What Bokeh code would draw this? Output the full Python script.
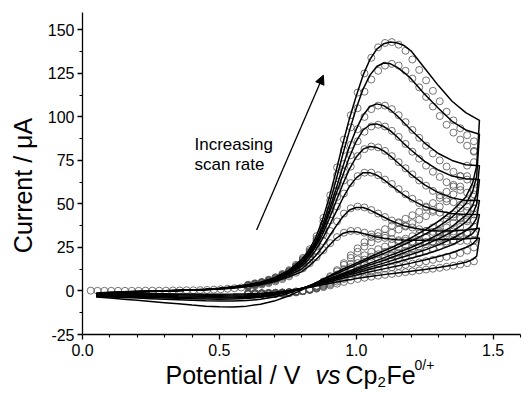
import math
from bokeh.plotting import figure
from bokeh.models import Range1d, FixedTicker, PrintfTickFormatter, Label, Arrow, NormalHead
from bokeh.embed import file_html
from bokeh.resources import INLINE

# ---------------- data ----------------
# simulated forward sweep potentials (V)
e_sim_fwd = [0.05, 0.10, 0.15, 0.20, 0.25, 0.30, 0.35, 0.40, 0.45, 0.50, 0.55, 0.60, 0.65, 0.70, 0.75,
             0.80, 0.825, 0.85, 0.875, 0.90, 0.925, 0.95, 0.975, 1.00, 1.025, 1.05, 1.075, 1.10, 1.125,
             1.15, 1.175, 1.20, 1.25, 1.30, 1.35, 1.40, 1.45]
# simulated reverse sweep potentials (V)
e_sim_rev = [1.45, 1.44, 1.425, 1.40, 1.35, 1.30, 1.25, 1.20, 1.15, 1.10, 1.05, 1.00, 0.95, 0.90, 0.85,
             0.80, 0.75, 0.70, 0.65, 0.60, 0.55, 0.50, 0.45, 0.40, 0.35, 0.30, 0.25, 0.20, 0.15, 0.10, 0.05]

sim_fwd_1 = [-2.5, -1.5, -1, -0.6, -0.3, 0, 0.3, 0.6, 1, 1.6, 2.4, 3.5, 5, 7.5, 11.5,
             18, 23, 30, 40, 53, 68, 84, 99, 112, 124, 133, 139, 142, 143, 142.5, 141, 138, 128, 118, 109, 102.5, 98]
sim_fwd_2 = [-2.3, -1.4, -0.9, -0.5, -0.2, 0, 0.3, 0.6, 1, 1.5, 2.3, 3.4, 4.9, 7.3, 11.2,
             17, 22, 28, 37, 49, 63, 78, 92, 105, 116, 124, 129, 131, 130.5, 128.5, 125.5, 122, 113, 105, 97.5, 92.5, 90]
sim_fwd_3 = [-2.1, -1.3, -0.8, -0.5, -0.2, 0, 0.3, 0.6, 0.9, 1.5, 2.2, 3.3, 4.8, 7.1, 10.8,
             16, 21, 27, 35, 46, 58, 71, 83, 93, 101, 106, 107.5, 106.5, 104, 100.5, 96.5, 92.5, 85, 79, 75, 72.5, 72]
sim_fwd_4 = [-2, -1.2, -0.8, -0.4, -0.2, 0.1, 0.3, 0.6, 0.9, 1.4, 2.2, 3.2, 4.7, 7, 10.5,
             15.5, 20, 26, 34, 44, 55, 66, 77, 86, 92.5, 95.5, 96, 94.5, 92, 88.5, 84.5, 81, 74.5, 69.5, 66, 64.5, 64]
sim_fwd_5 = [-1.8, -1.1, -0.7, -0.4, -0.1, 0.1, 0.3, 0.5, 0.9, 1.4, 2.1, 3.1, 4.5, 6.7, 10.2,
             15, 19.5, 25, 32, 41, 51, 61, 70, 77, 81.5, 83, 82.5, 80.5, 77.5, 74, 70.5, 67, 61, 56.5, 53.5, 52, 52]
sim_fwd_6 = [-1.6, -1, -0.6, -0.3, -0.1, 0.1, 0.3, 0.5, 0.8, 1.3, 2, 2.9, 4.3, 6.4, 9.6,
             14, 18, 23, 29.5, 37, 45, 53, 60, 65, 68, 68, 66.5, 64, 61, 58, 55, 52.5, 48.5, 46, 44.5, 44, 44]
sim_fwd_7 = [-1.4, -0.9, -0.5, -0.3, -0.1, 0.1, 0.3, 0.5, 0.8, 1.2, 1.8, 2.7, 4, 5.9, 8.8,
             12.5, 16, 20, 25, 31, 37, 42.5, 46.5, 48, 48, 46.5, 44.5, 42.5, 40.5, 39, 37.5, 36.5, 35, 34.5, 34.5, 35, 36]
sim_fwd_8 = [-1.2, -0.7, -0.4, -0.2, 0, 0.1, 0.3, 0.5, 0.7, 1.1, 1.6, 2.4, 3.6, 5.3, 7.9,
             11, 14, 17.5, 21.5, 26, 30, 33, 34.2, 34, 33, 32, 31, 30.3, 29.8, 29.5, 29.3, 29.2, 29.2, 29.4, 29.7, 30, 30.5]

sim_rev_1 = [98, 72, 62, 54, 46, 40, 35, 30.5, 26.5, 23, 19.5, 16, 12.5, 8.5, 4.5, 0.5, -3, -5.8, -7.6, -8.7,
             -9.2, -9.1, -8.7, -8.1, -7.4, -6.7, -6, -5.3, -4.7, -4.1, -3.5]
sim_rev_2 = [90, 66, 57, 50, 42.5, 37, 32.5, 28.5, 25, 21.5, 18.5, 15, 11.5, 8, 4.5, 1.2, -1.5, -3.5, -4.8, -5.5,
             -5.8, -5.8, -5.6, -5.3, -5, -4.7, -4.4, -4.1, -3.8, -3.5, -3.2]
sim_rev_3 = [72, 56, 49, 43.5, 37, 32.5, 28.5, 25, 22, 19, 16, 13, 10, 7, 4, 1.5, -0.8, -2.5, -3.6, -4.3,
             -4.6, -4.7, -4.6, -4.4, -4.2, -4, -3.8, -3.6, -3.4, -3.2, -3]
sim_rev_4 = [64, 50, 44, 39.5, 34, 30, 26.5, 23.5, 20.5, 17.5, 15, 12.2, 9.5, 6.6, 3.8, 1.4, -0.6, -2.1, -3.1, -3.7,
             -4, -4.1, -4, -3.9, -3.7, -3.5, -3.3, -3.1, -2.9, -2.7, -2.5]
sim_rev_5 = [52, 42, 38, 34.5, 30, 26.5, 23.5, 21, 18.5, 16, 13.7, 11.3, 8.8, 6.2, 3.6, 1.4, -0.4, -1.8, -2.7, -3.2,
             -3.5, -3.6, -3.5, -3.4, -3.3, -3.1, -2.9, -2.7, -2.5, -2.3, -2.1]
sim_rev_6 = [44, 36, 33, 30.5, 26.5, 23.5, 21, 18.8, 16.7, 14.6, 12.5, 10.3, 8.1, 5.8, 3.4, 1.4, -0.2, -1.4, -2.2, -2.7,
             -2.9, -3, -3, -2.9, -2.8, -2.6, -2.5, -2.3, -2.1, -2, -1.8]
sim_rev_7 = [36, 29.5, 27, 25, 22, 19.8, 17.8, 16, 14.4, 12.7, 11, 9.2, 7.3, 5.2, 3.1, 1.3, 0, -1, -1.7, -2.1,
             -2.3, -2.4, -2.4, -2.3, -2.2, -2.1, -2, -1.9, -1.7, -1.6, -1.5]
sim_rev_8 = [30.5, 20, 18, 16.5, 14.8, 13.5, 12.4, 11.4, 10.4, 9.4, 8.3, 7.1, 5.8, 4.3, 2.7, 1.2, 0.1, -0.7, -1.3, -1.6,
             -1.8, -1.9, -1.9, -1.8, -1.7, -1.6, -1.5, -1.4, -1.3, -1.2, -1.1]

# experimental points: common start of all sweeps (they overlap)
e_exp_base = [0.03, 0.055, 0.08, 0.105, 0.13, 0.155, 0.18, 0.205, 0.23, 0.255, 0.28, 0.305, 0.33, 0.355,
              0.38, 0.405, 0.43, 0.455, 0.48, 0.505, 0.53, 0.555, 0.58]
i_exp_base = [0.2, 0.1, 0.1, 0.1, 0.1, 0.1, 0.1, 0.1, 0.2, 0.2, 0.2, 0.2, 0.3, 0.3, 0.4, 0.4, 0.5, 0.6, 0.8,
              1.0, 1.3, 1.6, 2.0]
# experimental potentials for the curve-specific part of the sweeps
e_exp = [0.605, 0.63, 0.655, 0.68, 0.705, 0.73, 0.755, 0.78, 0.805, 0.83, 0.855, 0.88, 0.905, 0.93, 0.955,
         0.98, 1.005, 1.03, 1.055, 1.08, 1.105, 1.13, 1.155, 1.18, 1.205, 1.23, 1.255, 1.28, 1.305, 1.33,
         1.355, 1.38, 1.405, 1.43]

exp_fwd_1 = [3.6, 4.4, 5.2, 6.5, 7.9, 9.8, 12, 15, 19, 24, 31.5, 42, 55, 71, 87, 101, 114, 125, 134, 140,
             142.5, 143, 141.5, 138, 133, 127, 121, 115, 109, 103, 98, 93.5, 89.5, 86]
exp_fwd_2 = [3.4, 4.2, 5, 6.2, 7.6, 9.4, 11.5, 14.4, 18.3, 23, 30, 40, 52, 66.5, 81, 94, 105, 114.5, 121.5,
             126.5, 129.5, 130.5, 129.5, 126.5, 122, 117, 111.5, 106, 100.5, 95.5, 91, 87, 83.5, 80.5]
exp_fwd_3 = [3.3, 4.1, 4.9, 6, 7.4, 9.1, 11.2, 14, 17.7, 22.3, 29, 38, 49, 61, 73, 84, 93, 100, 104.5, 106.5,
             106.5, 104.5, 101, 97, 92.5, 88, 83.5, 79, 75, 71.5, 68.5, 66, 64, 62.5]
exp_fwd_4 = [3.2, 4, 4.8, 5.9, 7.2, 8.9, 11, 13.7, 17.3, 21.8, 28, 36.5, 46.5, 57.5, 68.5, 78, 86, 91.5, 94.5,
             95.5, 94.5, 92, 88.5, 84.5, 80, 76, 72, 68.5, 65.5, 62.5, 60, 58, 56.5, 55.5]
exp_fwd_5 = [3.1, 3.9, 4.7, 5.7, 7, 8.6, 10.6, 13.2, 16.7, 21, 27, 35, 44, 54, 63.5, 71.5, 77.5, 81.5, 83,
             82.5, 80.5, 77.5, 74, 70.5, 67, 63.5, 60.5, 57.5, 55, 53, 51, 49.5, 48.5, 47.5]
exp_fwd_6 = [2.9, 3.7, 4.5, 5.4, 6.6, 8.1, 10, 12.5, 15.8, 19.8, 25.5, 32.5, 40.5, 48.5, 56, 62, 66, 68, 68,
             66.5, 64, 61.5, 58.5, 55.5, 53, 50.5, 48.5, 46.5, 45, 43.5, 42.5, 41.5, 41, 40.5]
exp_fwd_7 = [2.7, 3.4, 4.1, 5, 6.1, 7.5, 9.3, 11.6, 14.5, 18.1, 23, 28.5, 34.5, 40, 44.5, 47.5, 48.5, 48,
             46.5, 44.5, 42.5, 40.5, 39, 37.5, 36.5, 35.5, 34.5, 34, 33.5, 33.2, 33, 33, 33, 33]
exp_fwd_8 = [2.4, 3, 3.7, 4.5, 5.5, 6.8, 8.4, 10.5, 13, 16, 19.5, 23.5, 27.5, 31, 33.5, 34.5, 34.5, 33.5,
             32.5, 31.5, 30.5, 29.8, 29.2, 28.8, 28.5, 28.3, 28.2, 28.2, 28.3, 28.4, 28.5, 28.7, 28.9, 29]

# reverse experimental sweeps, listed from 1.43 V back to 0.605 V
exp_rev_1 = [80, 72, 66, 61, 57, 53.5, 50.5, 48, 45.5, 43.5, 41.5, 39.5, 37.5, 35.5, 33.5, 31, 28, 24.5,
             20.5, 16, 12, 8.5, 5.5, 3, 1.2, 0, -0.8, -1.3, -1.6, -1.8, -1.9, -2, -2, -2]
exp_rev_2 = [74, 66, 60, 55.5, 51.5, 48.5, 45.5, 43, 41, 39, 37, 35.3, 33.5, 31.8, 30, 28, 25.5, 22.5, 19,
             15, 11.3, 8, 5.2, 2.9, 1.1, 0, -0.7, -1.2, -1.5, -1.7, -1.8, -1.9, -1.9, -1.9]
exp_rev_3 = [58, 52, 47.5, 44, 41, 38.5, 36.5, 34.5, 33, 31.5, 30, 28.5, 27, 25.5, 24, 22.5, 20.5, 18.2,
             15.5, 12.5, 9.5, 6.8, 4.5, 2.5, 1, 0, -0.6, -1, -1.3, -1.5, -1.6, -1.7, -1.7, -1.7]
exp_rev_4 = [51, 46, 42, 39, 36.5, 34.3, 32.4, 30.7, 29.2, 27.8, 26.4, 25.1, 23.8, 22.5, 21.1, 19.7, 18, 16,
             13.7, 11.1, 8.5, 6.1, 4.1, 2.3, 0.9, 0, -0.5, -0.9, -1.2, -1.4, -1.5, -1.6, -1.6, -1.6]
exp_rev_5 = [44, 40, 36.8, 34.2, 32, 30.1, 28.4, 26.9, 25.5, 24.2, 23, 21.8, 20.6, 19.4, 18.2, 16.9, 15.4,
             13.7, 11.8, 9.6, 7.4, 5.3, 3.6, 2, 0.8, 0, -0.5, -0.8, -1.1, -1.3, -1.4, -1.5, -1.5, -1.5]
exp_rev_6 = [37, 33.7, 31.2, 29.1, 27.3, 25.7, 24.3, 23, 21.8, 20.7, 19.6, 18.6, 17.6, 16.6, 15.5, 14.4,
             13.1, 11.7, 10.1, 8.3, 6.4, 4.6, 3.1, 1.8, 0.7, 0, -0.4, -0.7, -1, -1.2, -1.3, -1.4, -1.4, -1.4]
exp_rev_7 = [25, 23.2, 21.8, 20.6, 19.6, 18.7, 17.9, 17.1, 16.4, 15.7, 15, 14.3, 13.6, 12.9, 12.1, 11.3,
             10.4, 9.4, 8.2, 6.9, 5.4, 3.9, 2.7, 1.6, 0.7, 0, -0.4, -0.7, -0.9, -1.1, -1.2, -1.3, -1.3, -1.3]
exp_rev_8 = [17, 16, 15.2, 14.5, 13.9, 13.3, 12.8, 12.3, 11.8, 11.3, 10.8, 10.3, 9.8, 9.3, 8.8, 8.2, 7.6,
             6.9, 6.1, 5.2, 4.2, 3.2, 2.2, 1.3, 0.6, 0, -0.3, -0.6, -0.8, -1, -1.1, -1.2, -1.2, -1.2]

sim_fwd = [sim_fwd_1, sim_fwd_2, sim_fwd_3, sim_fwd_4, sim_fwd_5, sim_fwd_6, sim_fwd_7, sim_fwd_8]
sim_rev = [sim_rev_1, sim_rev_2, sim_rev_3, sim_rev_4, sim_rev_5, sim_rev_6, sim_rev_7, sim_rev_8]
exp_fwd = [exp_fwd_1, exp_fwd_2, exp_fwd_3, exp_fwd_4, exp_fwd_5, exp_fwd_6, exp_fwd_7, exp_fwd_8]
exp_rev = [exp_rev_1, exp_rev_2, exp_rev_3, exp_rev_4, exp_rev_5, exp_rev_6, exp_rev_7, exp_rev_8]

x_ticks = [0.0, 0.5, 1.0, 1.5]
x_minor = [0.1, 0.2, 0.3, 0.4, 0.6, 0.7, 0.8, 0.9, 1.1, 1.2, 1.3, 1.4, 1.6]
y_ticks = [-25, 0, 25, 50, 75, 100, 125, 150]
y_minor = [-12.5, 12.5, 37.5, 62.5, 87.5, 112.5, 137.5]
y_tick_text = {-25: "-25", 0: "0", 25: "25", 50: "50", 75: "75", 100: "100", 125: "125", 150: "150"}
x_lim = (0.0, 1.6)
y_lim = (-25, 160)

FONT = "Liberation Sans"
W, H = 522, 393
# where the axes box sits in the picture (pixels from top-left)
BOX_L, BOX_R, BOX_T, BOX_B = 82, 520, 12, 334
SX = (BOX_R - BOX_L) / (x_lim[1] - x_lim[0])
SY = (BOX_B - BOX_T) / (y_lim[1] - y_lim[0])
x_start = x_lim[0] - BOX_L / SX
x_end = x_lim[1] + (W - BOX_R) / SX
y_end = y_lim[1] + BOX_T / SY
y_start = y_lim[0] - (H - BOX_B) / SY

def px_x(px):
    return x_start + px / SX

def px_y(py):
    return y_end - py / SY

p = figure(width=W, height=H, output_backend="svg", toolbar_location=None,
           x_range=Range1d(x_start, x_end), y_range=Range1d(y_start, y_end), min_border=0)
p.min_border_left = p.min_border_right = p.min_border_top = p.min_border_bottom = 0
p.outline_line_color = None
p.grid.visible = False
p.background_fill_color = "white"
p.border_fill_color = "white"

p.xaxis[0].fixed_location = y_lim[0]
p.xaxis[0].bounds = x_lim
p.yaxis[0].fixed_location = x_lim[0]
p.yaxis[0].bounds = y_lim

for ax, t, m in ((p.xaxis[0], x_ticks, x_minor), (p.yaxis[0], y_ticks, y_minor)):
    ax.ticker = FixedTicker(ticks=t, minor_ticks=m)
    ax.axis_line_width = 1.3
    ax.axis_line_color = "black"
    ax.major_tick_line_width = 1.3
    ax.minor_tick_line_width = 1.1
    ax.major_tick_line_color = "black"
    ax.minor_tick_line_color = "black"
    ax.major_tick_in = 0
    ax.major_tick_out = 5
    ax.minor_tick_in = 0
    ax.minor_tick_out = 3
    ax.major_label_text_font = FONT
    ax.major_label_text_font_size = "16px"
    ax.major_label_text_color = "black"
p.xaxis[0].formatter = PrintfTickFormatter(format="%.1f")
p.yaxis[0].major_label_overrides = y_tick_text
p.xaxis[0].major_label_standoff = 4
p.yaxis[0].major_label_standoff = 3

# experimental circles
circ = dict(marker="circle", size=7, fill_color=None, line_color="#505050", line_width=0.8)
p.scatter(e_exp_base, i_exp_base, **circ)
for k in range(8):
    p.scatter(e_exp, exp_fwd[k], **circ)
    p.scatter(e_exp[::-1], exp_rev[k], **circ)

# simulated lines
for k in range(8):
    p.line(e_sim_fwd + e_sim_rev, sim_fwd[k] + sim_rev[k], line_color="black", line_width=1.5)

# arrow
arrow_start = (0.636, 35)
arrow_end = (0.88, 124)
p.add_layout(Arrow(end=NormalHead(size=9, fill_color="black", line_color="black"),
                   x_start=arrow_start[0], y_start=arrow_start[1], x_end=arrow_end[0], y_end=arrow_end[1],
                   line_color="black", line_width=1.3))

# texts, placed by their position in the picture (pixels from the top-left corner)
def plabel(px, py, text, size, style="normal", angle=0.0, align="left"):
    p.add_layout(Label(x=px_x(px), y=px_y(py), text=text, text_font=FONT, text_font_size=size,
                       text_font_style=style, text_color="black", text_baseline="alphabetic",
                       text_align=align, angle=angle))

plabel(194, 144, "Increasing", "17px")
plabel(194, 164, "scan rate", "17px")
plabel(22, 185, "Current / μA", "25px", angle=math.pi / 2, align="center")
plabel(165, 374, "Potential / V", "25px")
plabel(315, 374, "vs", "25px", style="italic")
plabel(345, 374, "Cp", "25px")
plabel(377, 381, "2", "15px")
plabel(386, 374, "Fe", "25px")
plabel(414, 364, "0/+", "14px")

open("out.html", "w").write(file_html(p, INLINE))
